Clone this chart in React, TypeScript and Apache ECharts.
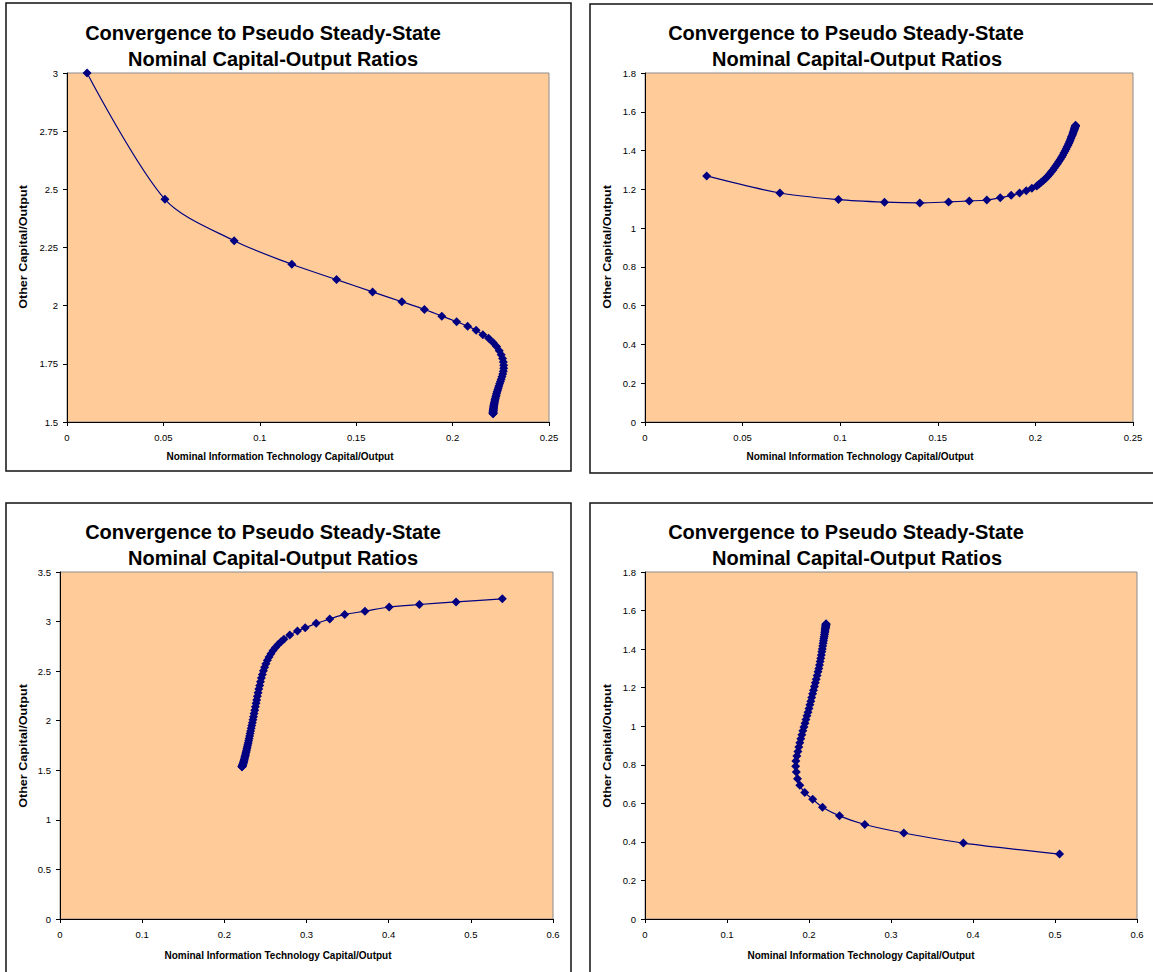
import { useEffect, useRef } from "react";
import * as echarts from "echarts";

const FONT = "'Liberation Sans', Arial, Helvetica, sans-serif";

const titleLine1 = "Convergence to Pseudo Steady-State";
const titleLine2 = "Nominal Capital-Output Ratios";
const xAxisName = "Nominal Information Technology Capital/Output";
const yAxisName = "Other Capital/Output";

// Panel 1: start at low IT ratio, high other ratio
const path1: number[][] = [
  [0.0104, 3.0], [0.0508, 2.457], [0.0867, 2.279], [0.1166, 2.178], [0.1398, 2.112],
  [0.1585, 2.059], [0.1737, 2.017], [0.1854, 1.984], [0.1944, 1.955], [0.2021, 1.931],
  [0.2078, 1.912], [0.2122, 1.894], [0.2157, 1.875], [0.2187, 1.86],
  [0.221, 1.842], [0.2228, 1.824], [0.2242, 1.806], [0.2252, 1.789], [0.2259, 1.773],
  [0.2263, 1.758], [0.2265, 1.744], [0.2265, 1.731], [0.2263, 1.718], [0.226, 1.706],
  [0.2256, 1.695], [0.2252, 1.684], [0.2248, 1.674], [0.2244, 1.664], [0.224, 1.655],
  [0.2237, 1.646], [0.2234, 1.638], [0.2231, 1.63], [0.2228, 1.622], [0.2226, 1.615],
  [0.2224, 1.608], [0.2222, 1.602], [0.222, 1.596], [0.2219, 1.59], [0.2217, 1.585],
  [0.2216, 1.58], [0.2215, 1.575], [0.2214, 1.571], [0.2213, 1.567], [0.2213, 1.563],
  [0.2212, 1.559], [0.2212, 1.556], [0.2211, 1.553], [0.2211, 1.55], [0.2211, 1.548],
  [0.221, 1.545], [0.221, 1.543], [0.221, 1.541], [0.221, 1.539], [0.221, 1.538],
  [0.221, 1.536], [0.221, 1.535],
];

// Panel 2: start at low IT ratio, low other ratio
const path2: number[][] = [
  [0.0316, 1.269], [0.0691, 1.181], [0.0991, 1.147], [0.1227, 1.134], [0.1408, 1.13],
  [0.1555, 1.135], [0.1661, 1.14], [0.1751, 1.145], [0.182, 1.157], [0.1876, 1.169],
  [0.1919, 1.181], [0.1953, 1.193], [0.1982, 1.205], [0.2007, 1.217],
  [0.2018, 1.226], [0.203, 1.236], [0.2041, 1.246], [0.2052, 1.256], [0.2062, 1.266],
  [0.2071, 1.277], [0.208, 1.288], [0.2089, 1.299], [0.2097, 1.31], [0.2105, 1.321],
  [0.2113, 1.332], [0.212, 1.343], [0.2127, 1.354], [0.2134, 1.365], [0.214, 1.376],
  [0.2146, 1.387], [0.2152, 1.398], [0.2157, 1.408], [0.2162, 1.418], [0.2167, 1.428],
  [0.2171, 1.437], [0.2175, 1.446], [0.2179, 1.455], [0.2182, 1.463], [0.2185, 1.471],
  [0.2188, 1.478], [0.2191, 1.485], [0.2193, 1.491], [0.2195, 1.497], [0.2197, 1.502],
  [0.2199, 1.507], [0.22, 1.511], [0.2201, 1.515], [0.2202, 1.518], [0.2203, 1.521],
  [0.2204, 1.524], [0.2205, 1.526], [0.2205, 1.528], [0.2206, 1.53],
];

// Panel 3: start at high IT ratio, high other ratio
const path3: number[][] = [
  [0.5383, 3.229], [0.482, 3.198], [0.4374, 3.172], [0.4006, 3.147], [0.3711, 3.105],
  [0.3465, 3.072], [0.3283, 3.026], [0.3118, 2.982], [0.2984, 2.938], [0.289, 2.905],
  [0.2796, 2.864], [0.2725, 2.822],
  [0.269, 2.796], [0.2655, 2.768], [0.2622, 2.738], [0.2593, 2.708], [0.2567, 2.676],
  [0.2544, 2.643], [0.2524, 2.61], [0.2506, 2.575], [0.249, 2.54], [0.2476, 2.504],
  [0.2463, 2.467], [0.2451, 2.43], [0.244, 2.393], [0.243, 2.356], [0.242, 2.319],
  [0.2411, 2.282], [0.2402, 2.246], [0.2394, 2.21], [0.2386, 2.175], [0.2378, 2.14],
  [0.237, 2.106], [0.2362, 2.073], [0.2355, 2.041], [0.2348, 2.01], [0.2341, 1.98],
  [0.2334, 1.951], [0.2327, 1.923], [0.232, 1.896], [0.2314, 1.87], [0.2308, 1.845],
  [0.2302, 1.821], [0.2296, 1.798], [0.229, 1.776], [0.2284, 1.755], [0.2279, 1.735],
  [0.2274, 1.716], [0.2269, 1.698], [0.2264, 1.681], [0.2259, 1.665], [0.2255, 1.65],
  [0.2251, 1.636], [0.2247, 1.623], [0.2243, 1.611], [0.224, 1.6], [0.2237, 1.59],
  [0.2234, 1.581], [0.2231, 1.573], [0.2228, 1.566], [0.2226, 1.56], [0.2224, 1.555],
  [0.2222, 1.55], [0.222, 1.546], [0.2218, 1.543], [0.2217, 1.54], [0.2216, 1.538],
  [0.2215, 1.536], [0.2214, 1.535],
];

// Panel 4: start at high IT ratio, low other ratio
const path4: number[][] = [
  [0.5056, 0.337], [0.3883, 0.394], [0.3156, 0.446], [0.268, 0.49], [0.2372, 0.535],
  [0.2165, 0.58], [0.2045, 0.621], [0.1948, 0.656], [0.1888, 0.694], [0.186, 0.728],
  [0.1845, 0.762], [0.1838, 0.792], [0.184, 0.82],
  [0.1852, 0.845], [0.1865, 0.869], [0.1876, 0.892], [0.1888, 0.914], [0.19, 0.935],
  [0.1913, 0.956], [0.1925, 0.976], [0.1938, 0.996], [0.1951, 1.016], [0.1963, 1.035],
  [0.1975, 1.054], [0.1988, 1.073], [0.2, 1.092], [0.2011, 1.111], [0.2022, 1.13],
  [0.2033, 1.149], [0.2044, 1.168], [0.2055, 1.187], [0.2066, 1.206], [0.2077, 1.225],
  [0.2088, 1.244], [0.2099, 1.263], [0.211, 1.282], [0.212, 1.3], [0.2128, 1.318],
  [0.2136, 1.336], [0.2143, 1.353], [0.215, 1.37], [0.2156, 1.386], [0.2162, 1.401],
  [0.2167, 1.416], [0.2172, 1.43], [0.2177, 1.443], [0.2181, 1.455], [0.2185, 1.466],
  [0.2189, 1.476], [0.2192, 1.485], [0.2195, 1.493], [0.2197, 1.5], [0.2199, 1.506],
  [0.2201, 1.511], [0.2203, 1.515], [0.2204, 1.519], [0.2205, 1.522], [0.2206, 1.525],
  [0.2207, 1.527], [0.2208, 1.529], [0.2208, 1.531],
];

// Axis ranges per panel
const xRanges = [
  { min: 0, max: 0.25, interval: 0.05 },
  { min: 0, max: 0.25, interval: 0.05 },
  { min: 0, max: 0.6, interval: 0.1 },
  { min: 0, max: 0.6, interval: 0.1 },
];
const yRanges = [
  { min: 1.5, max: 3, interval: 0.25 },
  { min: 0, max: 1.8, interval: 0.2 },
  { min: 0, max: 3.5, interval: 0.5 },
  { min: 0, max: 1.8, interval: 0.2 },
];
const paths = [path1, path2, path3, path4];

// Layout (pixels)
const grids = [
  { left: 67, top: 73, width: 482, height: 349 },
  { left: 645, top: 73, width: 488, height: 349 },
  { left: 60, top: 572, width: 493, height: 347 },
  { left: 645, top: 572, width: 492, height: 347 },
];
const frames = [
  { x: 6, y: 3, width: 565, height: 468 },
  { x: 590, y: 4, width: 600, height: 469 },
  { x: 6, y: 503, width: 565, height: 520 },
  { x: 590, y: 503, width: 600, height: 520 },
];
const titlePos = [
  { x1: 263, y1: 33, x2: 273, y2: 59 },
  { x1: 846, y1: 33, x2: 857, y2: 59 },
  { x1: 263, y1: 532, x2: 273, y2: 558 },
  { x1: 846, y1: 532, x2: 857, y2: 558 },
];
const xNamePos = [
  { x: 280, y: 456 },
  { x: 860, y: 456 },
  { x: 278, y: 955 },
  { x: 861, y: 955 },
];
const yNamePos = [
  { x: 23, y: 247 },
  { x: 607, y: 247 },
  { x: 23, y: 746 },
  { x: 607, y: 746 },
];

const fmt = (v: number) => String(+v.toFixed(4));

export default function App() {
  const ref = useRef<HTMLDivElement>(null);
  useEffect(() => {
    if (!ref.current) return;
    const chart = echarts.init(ref.current, undefined, { renderer: "svg" });

    const graphic: any[] = [];
    frames.forEach((f) => {
      graphic.push({
        type: "rect",
        shape: { x: f.x, y: f.y, width: f.width, height: f.height },
        style: { fill: "none", stroke: "#111", lineWidth: 1.5 },
        z: 100,
      });
    });
    titlePos.forEach((t) => {
      graphic.push({
        type: "text",
        x: t.x1,
        y: t.y1,
        style: {
          text: titleLine1,
          fontFamily: FONT,
          fontSize: 20,
          fontWeight: "bold",
          fill: "#000",
          align: "center",
          verticalAlign: "middle",
        },
      });
      graphic.push({
        type: "text",
        x: t.x2,
        y: t.y2,
        style: {
          text: titleLine2,
          fontFamily: FONT,
          fontSize: 20,
          fontWeight: "bold",
          fill: "#000",
          align: "center",
          verticalAlign: "middle",
        },
      });
    });
    xNamePos.forEach((p) => {
      graphic.push({
        type: "text",
        x: p.x,
        y: p.y,
        style: {
          text: xAxisName,
          fontFamily: FONT,
          fontSize: 10,
          fontWeight: "bold",
          fill: "#000",
          align: "center",
          verticalAlign: "middle",
        },
      });
    });
    yNamePos.forEach((p) => {
      graphic.push({
        type: "text",
        x: p.x,
        y: p.y,
        rotation: Math.PI / 2,
        scaleX: 1.2,
        style: {
          text: yAxisName,
          fontFamily: FONT,
          fontSize: 10.5,
          fontWeight: "bold",
          fill: "#000",
          align: "center",
          verticalAlign: "middle",
        },
      });
    });

    const axisCommon = {
      type: "value" as const,
      axisLine: { show: true, onZero: false, lineStyle: { color: "#000", width: 1 } },
      axisTick: { show: true, inside: false, length: 4, lineStyle: { color: "#000" } },
      splitLine: { show: false },
    };

    const option: any = {
      animation: false,
      backgroundColor: "#fff",
      grid: grids.map((g) => ({
        ...g,
        show: true,
        backgroundColor: "#FFCC99",
        borderColor: "#8c8c8c",
        borderWidth: 1,
        containLabel: false,
      })),
      xAxis: xRanges.map((r, i) => ({
        ...axisCommon,
        gridIndex: i,
        min: r.min,
        max: r.max,
        interval: r.interval,
        axisLabel: {
          fontFamily: FONT,
          fontSize: 9.5,
          color: "#000",
          margin: 10,
          formatter: fmt,
        },
      })),
      yAxis: yRanges.map((r, i) => ({
        ...axisCommon,
        gridIndex: i,
        min: r.min,
        max: r.max,
        interval: r.interval,
        axisLabel: {
          fontFamily: FONT,
          fontSize: 9.5,
          color: "#000",
          margin: 9,
          formatter: fmt,
        },
      })),
      series: paths.map((p, i) => ({
        type: "line",
        xAxisIndex: i,
        yAxisIndex: i,
        data: p,
        smooth: 0.3,
        symbol: "diamond",
        symbolSize: 9,
        showAllSymbol: true,
        clip: false,
        itemStyle: { color: "#000080" },
        lineStyle: { color: "#000080", width: 1.2 },
      })),
      graphic,
    };
    chart.setOption(option);
    return () => chart.dispose();
  }, []);

  return (
    <div
      ref={ref}
      style={{ position: "absolute", left: 0, top: 0, width: 1153, height: 972 }}
    />
  );
}
